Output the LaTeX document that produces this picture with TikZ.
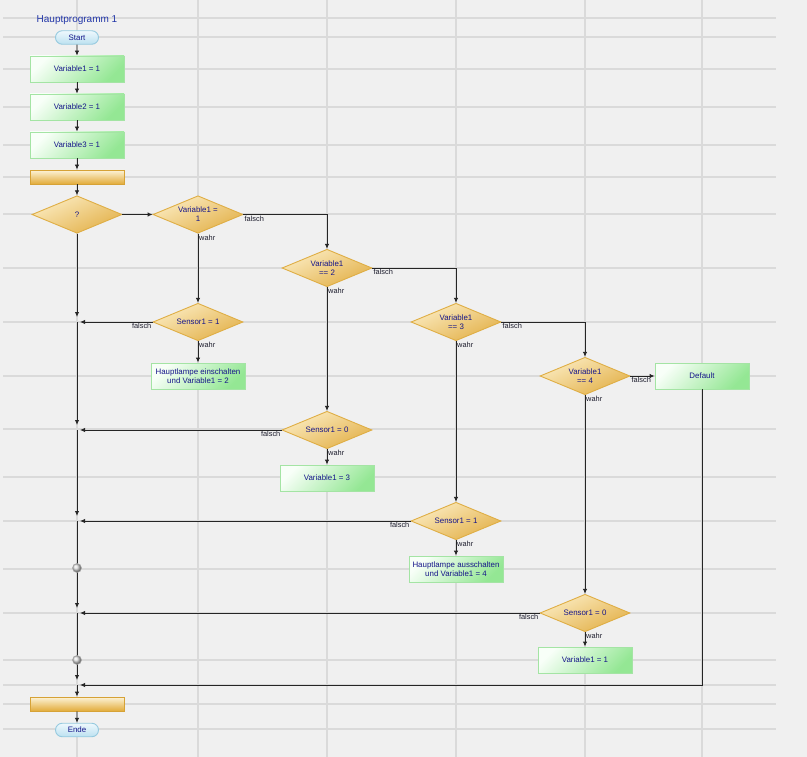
\documentclass[tikz,border=0pt]{standalone}
\usepackage{fontspec}
\setmainfont{Liberation Sans}
\usetikzlibrary{shapes.geometric,shapes.misc,arrows.meta}
\definecolor{bgc}{HTML}{F0F0F0}
\definecolor{gridc}{HTML}{DADADA}
\definecolor{txtc}{HTML}{16168A}
\definecolor{titlec}{HTML}{2236A8}
\definecolor{lblc}{HTML}{1E1E2E}
\definecolor{linec}{HTML}{252525}
\definecolor{gtop}{HTML}{F8FFF8}
\definecolor{gbot}{HTML}{94E794}
\definecolor{gbrd}{HTML}{A4E4A4}
\definecolor{dtop}{HTML}{FBEBC0}
\definecolor{dbot}{HTML}{E3B14A}
\definecolor{dbrd}{HTML}{DFAE45}
\definecolor{ttop}{HTML}{EEF8FD}
\definecolor{tbot}{HTML}{BCE1F0}
\definecolor{tbrd}{HTML}{96CADF}
\definecolor{btop}{HTML}{FDF3D8}
\definecolor{bbot}{HTML}{E2AC3A}
\definecolor{bbrd}{HTML}{D6A236}
\tikzset{
  gridline/.style={draw=gridc, line width=1.2pt},
  nodefont/.style={font=\fontsize{7.9}{9}\selectfont, text=txtc},
  box/.style={rectangle, minimum width=94, minimum height=26, inner sep=0,
    draw=gbrd, line width=0.9pt, top color=gtop, bottom color=gbot, shading angle=45,
    nodefont, align=center},
  dia/.style={diamond, aspect=2.4, minimum width=90, minimum height=37.5, inner sep=0,
    draw=dbrd, line width=0.9pt, top color=dtop, bottom color=dbot, shading angle=25},
  dtext/.style={nodefont, align=center, inner sep=0},
  term/.style={rounded rectangle, minimum width=43, minimum height=13.5, inner sep=0,
    draw=tbrd, line width=0.9pt, top color=ttop, bottom color=tbot, nodefont},
  barbox/.style={chamfered rectangle, chamfered rectangle xsep=3pt, chamfered rectangle ysep=3pt,
    minimum width=94, minimum height=14, inner sep=0,
    draw=bbrd, line width=0.9pt, top color=btop, bottom color=bbot},
  lbl/.style={font=\fontsize{7.4}{8}\selectfont, text=lblc, inner sep=1pt},
  conn/.style={draw=linec, line width=0.9pt},
  arr/.style={conn, -{Latex[length=5pt,width=4.5pt]}},
  junc/.style={circle, minimum size=9, inner sep=0, draw=gray!70, line width=0.5pt,
    shading=ball, ball color=gray!30},
}
\begin{document}
\begin{tikzpicture}[x=1pt,y=-1pt]
\fill[bgc] (0,0) rectangle (807,757);
\useasboundingbox (0,0) rectangle (807,757);
% grid
\foreach \yy in {18,37,69,107,145,177,214,268,322,376,429,477,521,569,613,660,685,704,729}
  \draw[gridline] (3,\yy) -- (776,\yy);
\foreach \xx in {77,198,327,456,585,702}
  \draw[gridline] (\xx,0) -- (\xx,757);

% left column
\node[font=\fontsize{10}{12}\selectfont, text=titlec, inner sep=0] (title) at (77,20) {Hauptprogramm 1};
\node[term] (start) at (77,37.5) {Start};
\node[box] (v1) at (77,69) {Variable1 = 1};
\node[box] (v2) at (77,107) {Variable2 = 1};
\node[box] (v3) at (77,145) {Variable3 = 1};
\node[barbox, chamfered rectangle corners={north west,north east}] (lt) at (77,177) {};
\node[dia] (q) at (77,214.5) {};
\node[dtext] (qt) at (q.center) {?};

% decisions
\node[dia] (d1) at (198,214.5) {};
\node[dtext] (d1t) at (d1.center) {Variable1 =\\1};
\node[dia] (d2) at (327,268) {};
\node[dtext] (d2t) at (d2.center) {Variable1\\== 2};
\node[dia] (d3) at (456,322) {};
\node[dtext] (d3t) at (d3.center) {Variable1\\== 3};
\node[dia] (d4) at (585,376) {};
\node[dtext] (d4t) at (d4.center) {Variable1\\== 4};

\node[dia] (s1) at (198,322) {};
\node[dtext] (s1t) at (s1.center) {Sensor1 = 1};
\node[dia] (s2) at (327,430) {};
\node[dtext] (s2t) at (s2.center) {Sensor1 = 0};
\node[dia] (s3) at (456,521) {};
\node[dtext] (s3t) at (s3.center) {Sensor1 = 1};
\node[dia] (s4) at (585,613) {};
\node[dtext] (s4t) at (s4.center) {Sensor1 = 0};

% actions
\node[box] (b1) at (198,376) {Hauptlampe einschalten\\und Variable1 = 2};
\node[box] (b2) at (327,478) {Variable1 = 3};
\node[box] (b3) at (456,569) {Hauptlampe ausschalten\\und Variable1 = 4};
\node[box] (b4) at (585,660) {Variable1 = 1};
\node[box] (def) at (702,376) {Default};

% bottom
\node[barbox, chamfered rectangle corners={south west,south east}] (lb) at (77,704) {};
\node[term] (ende) at (77,730) {Ende};

% junctions
\coordinate (j1) at (77,322);
\coordinate (j2) at (77,430);
\coordinate (j3) at (77,521);
\coordinate (j4) at (77,613);
\coordinate (j5) at (77,685);
\coordinate (c1p) at (77,568);
\coordinate (c2p) at (77,660);

% connectors top
\draw[arr] (start) -- (v1);
\draw[arr] (v1) -- (v2);
\draw[arr] (v2) -- (v3);
\draw[arr] (v3) -- (lt);
\draw[arr] (lt) -- (q);
\draw[arr] (q.east) -- (d1.west);

\draw[arr] (d1.east) -| (d2.north);
\draw[arr] (d2.east) -| (d3.north);
\draw[arr] (d3.east) -| (d4.north);
\draw[arr] (d4.east) -- (def.west);

\draw[arr] (d1.south) -- (s1.north);
\draw[arr] (d2.south) -- (s2.north);
\draw[arr] (d3.south) -- (s3.north);
\draw[arr] (d4.south) -- (s4.north);

\draw[arr] (s1.south) -- (b1.north);
\draw[arr] (s2.south) -- (b2.north);
\draw[arr] (s3.south) -- (b3.north);
\draw[arr] (s4.south) -- (b4.north);

\draw[arr, shorten >=3pt] (s1.west) -- (j1);
\draw[arr, shorten >=3pt] (s2.west) -- (j2);
\draw[arr, shorten >=3pt] (s3.west) -- (j3);
\draw[arr, shorten >=3pt] (s4.west) -- (j4);
\draw[arr, shorten >=3pt] (def.south) |- (j5);

% main line
\draw[arr, shorten >=5pt] (q.south) -- (j1);
\draw[arr, shorten >=5pt] (j1) -- (j2);
\draw[arr, shorten >=5pt] (j2) -- (j3);
\draw[conn] (j3) -- (c1p);
\draw[arr, shorten >=5pt] (c1p) -- (j4);
\draw[conn] (j4) -- (c2p);
\draw[arr, shorten >=5pt] (c2p) -- (j5);
\draw[arr] (j5) -- (lb.north);
\draw[arr] (lb) -- (ende);

\node[junc] (c1) at (c1p) {};
\node[junc] (c2) at (c2p) {};

% labels
\node[lbl, anchor=north west] (l1f) at (d1.east) {falsch};
\node[lbl, anchor=north west] (l1w) at (d1.south) {wahr};
\node[lbl, anchor=north west] (l2f) at (d2.east) {falsch};
\node[lbl, anchor=north west] (l2w) at (d2.south) {wahr};
\node[lbl, anchor=north west] (l3f) at (d3.east) {falsch};
\node[lbl, anchor=north west] (l3w) at (d3.south) {wahr};
\node[lbl, anchor=north west] (l4f) at (d4.east) {falsch};
\node[lbl, anchor=north west] (l4w) at (d4.south) {wahr};

\node[lbl, anchor=north east] (m1f) at (s1.west) {falsch};
\node[lbl, anchor=north west] (m1w) at (s1.south) {wahr};
\node[lbl, anchor=north east] (m2f) at (s2.west) {falsch};
\node[lbl, anchor=north west] (m2w) at (s2.south) {wahr};
\node[lbl, anchor=north east] (m3f) at (s3.west) {falsch};
\node[lbl, anchor=north west] (m3w) at (s3.south) {wahr};
\node[lbl, anchor=north east] (m4f) at (s4.west) {falsch};
\node[lbl, anchor=north west] (m4w) at (s4.south) {wahr};
\end{tikzpicture}
\end{document}
